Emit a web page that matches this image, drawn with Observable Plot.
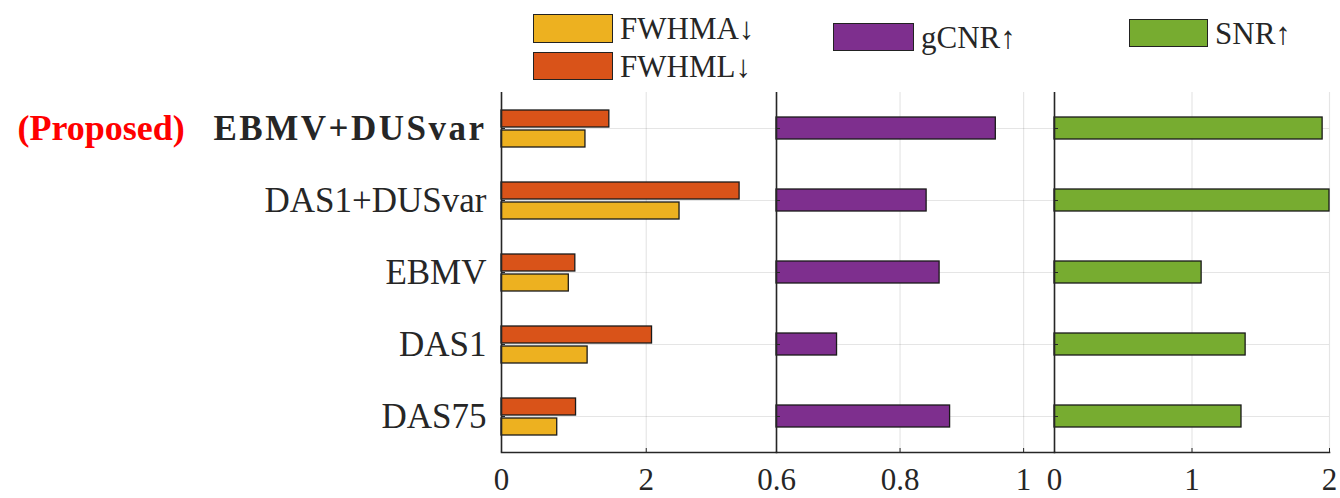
<!DOCTYPE html>
<html><head><meta charset="utf-8">
<script src="https://cdn.jsdelivr.net/npm/d3@7"></script>
<script src="https://cdn.jsdelivr.net/npm/@observablehq/plot@0.6"></script>
<style>
body{margin:0;background:#fff;}
#wrap{position:relative;width:1340px;height:498px;overflow:hidden;font-family:"Liberation Serif",serif;color:#262626;background:#fff;}
#wrap svg{position:absolute;left:0;top:0;}
.lg{position:absolute;display:flex;align-items:center;font-size:31px;line-height:1;white-space:nowrap;}
.sw{border:1.5px solid #222;box-sizing:border-box;margin-right:7px;}
</style></head><body><div id="wrap"></div>
<script>
// ---- data ----
const categories = ["EBMV+DUSvar", "DAS1+DUSvar", "EBMV", "DAS1", "DAS75"];
const fwhma = [1.16, 2.46, 0.93, 1.19, 0.77];
const fwhml = [1.49, 3.29, 1.02, 2.08, 1.03];
const gcnr = [0.955, 0.843, 0.864, 0.698, 0.881];
const snr = [1.95, 2.0, 1.07, 1.39, 1.36];
const seriesNames = ["FWHMA↓", "FWHML↓", "gCNR↑", "SNR↑"];
const seriesColors = ["#EDB120", "#D95319", "#7E2F8E", "#77AC30"];
const domain1 = [0, 3.8], ticks1 = [0, 2];
const domain2 = [0.6, 1.05], ticks2 = [0.6, 0.8, 1.0];
const domain3 = [0, 2], ticks3 = [0, 1, 2];
const proposed = [{category: "EBMV+DUSvar", label: "(Proposed)"}];

// ---- layout ----
const W = 1340, H = 498;
const ink = "#262626";
const FONT = "Liberation Serif";
const wrap = document.getElementById("wrap");

function panel({domain, ticks, left, right, marks}) {
  return Plot.plot({
    width: W, height: H,
    marginTop: 92, marginBottom: 46, marginLeft: left, marginRight: W - right,
    style: {background: "transparent", fontFamily: FONT, color: ink, overflow: "visible"},
    x: {domain, axis: null},
    y: {domain: categories, type: "band", padding: 0, axis: null},
    marks: [
      Plot.gridX(ticks, {stroke: "#000", strokeOpacity: 0.1, strokeWidth: 1.2}),
      Plot.gridY(categories, {stroke: "#000", strokeOpacity: 0.1, strokeWidth: 1.2}),
      ...marks,
      Plot.ruleX([domain[0]], {stroke: ink, strokeWidth: 1.6}),
      Plot.frame({anchor: "bottom", stroke: ink, strokeWidth: 1.6}),
      Plot.axisY({tickSize: 4, dx: 4, tickFormat: () => "", stroke: ink, label: null}),
      Plot.axisX(ticks, {tickSize: 4, dy: -4, tickFormat: () => "", stroke: ink, label: null}),
      Plot.axisX(ticks, {tickSize: 0, tickPadding: 15, fontSize: 31, fill: ink, label: null, tickFormat: d => String(d)})
    ]
  });
}

const barStyle = {stroke: "#1a1a1a", strokeWidth: 1.3};

const p1 = panel({
  domain: domain1, ticks: ticks1, left: 501, right: 776,
  marks: [
    Plot.barX(categories, {y: d => d, x1: () => domain1[0], x2: (d, i) => fwhml[i], fill: seriesColors[1], insetTop: 18, insetBottom: 37, ...barStyle}),
    Plot.barX(categories, {y: d => d, x1: () => domain1[0], x2: (d, i) => fwhma[i], fill: seriesColors[0], insetTop: 38, insetBottom: 17, ...barStyle}),
    Plot.text(categories.slice(1), {y: d => d, frameAnchor: "left", textAnchor: "end", dx: -15, fontSize: 35, fill: ink, fontFamily: FONT}),
    Plot.text(categories.slice(0, 1), {y: d => d, frameAnchor: "left", textAnchor: "end", dx: -15, fontSize: 35, fontWeight: "bold", fill: ink, fontFamily: FONT}),
    Plot.text(proposed, {y: "category", text: "label", frameAnchor: "left", textAnchor: "start", dx: -484, fontSize: 36, fontWeight: "bold", fill: "#ff0000", fontFamily: FONT})
  ]
});
const p2 = panel({
  domain: domain2, ticks: ticks2, left: 776, right: 1054,
  marks: [
    Plot.barX(categories, {y: d => d, x1: () => domain2[0], x2: (d, i) => gcnr[i], fill: seriesColors[2], insetTop: 25, insetBottom: 25, ...barStyle})
  ]
});
const p3 = panel({
  domain: domain3, ticks: ticks3, left: 1054, right: 1329,
  marks: [
    Plot.barX(categories, {y: d => d, x1: () => domain3[0], x2: (d, i) => snr[i], fill: seriesColors[3], insetTop: 25, insetBottom: 25, ...barStyle})
  ]
});
[p1, p2, p3].forEach(s => wrap.appendChild(s));

// widen the bold label a little (Computer Modern bold extended is wide)
d3.select(p1).selectAll("text").filter(function() { return this.textContent === categories[0]; })
  .attr("letter-spacing", "2.5px");

// ---- legends ----
const legendBoxes = [
  {i: 0, left: 533, top: 14, w: 80, h: 29},
  {i: 1, left: 533, top: 52, w: 80, h: 28},
  {i: 2, left: 833, top: 23, w: 81, h: 28},
  {i: 3, left: 1129, top: 19, w: 79, h: 28}
];
legendBoxes.forEach(b => {
  const div = document.createElement("div");
  div.className = "lg";
  div.style.left = b.left + "px";
  div.style.top = b.top + "px";
  div.style.height = b.h + "px";
  const sw = document.createElement("div");
  sw.className = "sw";
  sw.style.width = b.w + "px";
  sw.style.height = b.h + "px";
  sw.style.background = seriesColors[b.i];
  const t = document.createElement("span");
  t.textContent = seriesNames[b.i];
  div.appendChild(sw);
  div.appendChild(t);
  wrap.appendChild(div);
});
</script>
</body></html>
